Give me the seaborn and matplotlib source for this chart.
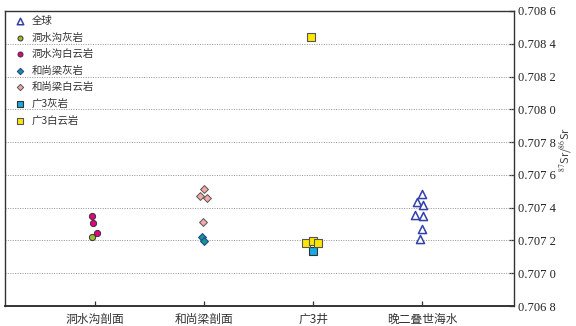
"""
Sr isotope comparison chart (87Sr/86Sr by section / well).
"""
import matplotlib
matplotlib.use("Agg")
import matplotlib.pyplot as plt
from matplotlib.ticker import FuncFormatter, FixedLocator
import pandas as pd
import seaborn as sns

# Categories on the x axis
categories = ["洞水沟剖面", "和尚梁剖面", "广3井", "晚二叠世海水"]

# Series: (legend label, category, values, small horizontal offsets)
global_cat = "晚二叠世海水"
global_vals = [0.707483, 0.707433, 0.707416, 0.707355, 0.707349, 0.707268, 0.707207]
global_dx = [-0.006, -0.05, 0.01, -0.07, 0.004, -0.006, -0.02]

dsg_lime_vals = [0.707219]
dsg_lime_dx = [-0.025]

dsg_dolo_vals = [0.707349, 0.707305, 0.707247]
dsg_dolo_dx = [-0.03, -0.016, 0.016]

hsl_lime_vals = [0.707223, 0.707197]
hsl_lime_dx = [-0.018, 0.003]

hsl_dolo_vals = [0.707514, 0.707471, 0.707461, 0.707314]
hsl_dolo_dx = [0.003, -0.04, 0.028, -0.009]

g3_lime_vals = [0.707136]
g3_lime_dx = [0.0]

g3_dolo_vals = [0.708443, 0.707186, 0.707198, 0.707186]
g3_dolo_dx = [-0.022, -0.068, -0.006, 0.04]

series = [
    ("全球", global_cat, global_vals, global_dx),
    ("洞水沟灰岩", "洞水沟剖面", dsg_lime_vals, dsg_lime_dx),
    ("洞水沟白云岩", "洞水沟剖面", dsg_dolo_vals, dsg_dolo_dx),
    ("和尚梁灰岩", "和尚梁剖面", hsl_lime_vals, hsl_lime_dx),
    ("和尚梁白云岩", "和尚梁剖面", hsl_dolo_vals, hsl_dolo_dx),
    ("广3灰岩", "广3井", g3_lime_vals, g3_lime_dx),
    ("广3白云岩", "广3井", g3_dolo_vals, g3_dolo_dx),
]

# marker styles per series
styles = {
    "全球": dict(marker="^", color="white", edgecolor="#3340A8", s=34, linewidth=1.1),
    "洞水沟灰岩": dict(marker="o", color="#9DBB2C", edgecolor="#333333", s=20, linewidth=0.7),
    "洞水沟白云岩": dict(marker="o", color="#E5007F", edgecolor="#333333", s=20, linewidth=0.7),
    "和尚梁灰岩": dict(marker="D", color="#0F9C78", edgecolor="#2844A8", s=16, linewidth=0.8),
    "和尚梁白云岩": dict(marker="D", color="#F4A8A8", edgecolor="#555555", s=16, linewidth=0.7),
    "广3灰岩": dict(marker="s", color="#18AAE2", edgecolor="#333333", s=28, linewidth=0.8),
    "广3白云岩": dict(marker="s", color="#FFE600", edgecolor="#555555", s=28, linewidth=0.8),
}

rows = []
for label, cat, vals, dxs in series:
    for v, dx in zip(vals, dxs):
        rows.append({"series": label, "x": categories.index(cat) + dx, "sr": v})
df = pd.DataFrame(rows)

sns.set_style("white")
plt.rcParams["font.family"] = ["Noto Sans CJK SC", "DejaVu Sans"]
plt.rcParams["mathtext.fontset"] = "stix"

fig = plt.figure(figsize=(5.76, 3.26), dpi=100)
ax = fig.add_axes([0.0087, 0.0613, 0.8837, 0.905])

for label, _, _, _ in series:
    sub = df[df["series"] == label]
    sns.scatterplot(data=sub, x="x", y="sr", ax=ax, label=label, zorder=3, **styles[label])

ax.set_xlim(-0.826, 3.842)
ax.set_ylim(0.7068, 0.7086)
ax.xaxis.set_major_locator(FixedLocator(range(len(categories))))
ax.set_xticklabels(categories, fontsize=8.5, color="#333333")
ax.set_xlabel("")

yticks = [0.7068 + 0.0002 * i for i in range(10)]
ax.yaxis.set_major_locator(FixedLocator(yticks))
ax.yaxis.set_major_formatter(FuncFormatter(lambda v, p: f"{v:.4f}"[:-1] + " " + f"{v:.4f}"[-1]))
ax.yaxis.tick_right()
ax.yaxis.set_label_position("right")
for t in ax.get_yticklabels():
    t.set_fontfamily("Liberation Serif")
    t.set_fontsize(9)
ax.set_ylabel(r"$^{87}$Sr/$^{86}$Sr", fontsize=8, color="#444444")
ax.yaxis.set_label_coords(1.084, 0.53)

ax.tick_params(axis="both", direction="in", length=3.5, width=0.9, colors="#333333",
               right=True, left=False, bottom=True, top=False, pad=3)
ax.tick_params(axis="x", pad=5, labelcolor="#333333")
ax.tick_params(axis="y", labelcolor="#222222")

# dotted horizontal grid inside the box
for yv in yticks[1:-1]:
    ax.axhline(yv, color="#909090", linestyle=(0, (1, 1.5)), linewidth=0.7, zorder=1)

for side, sp in ax.spines.items():
    sp.set_visible(True)
    sp.set_color("#333333")
    sp.set_linewidth(1.0)
ax.spines["bottom"].set_linewidth(1.4)

leg = ax.legend(loc="upper left", bbox_to_anchor=(0.018, 0.99), frameon=False, fontsize=7.5,
                handlelength=0.8, handletextpad=0.7, labelspacing=0.62, borderaxespad=0.0,
                borderpad=0.2, markerscale=0.8)
for txt in leg.get_texts():
    txt.set_color("#333333")

fig.savefig("out.png", dpi=100)
